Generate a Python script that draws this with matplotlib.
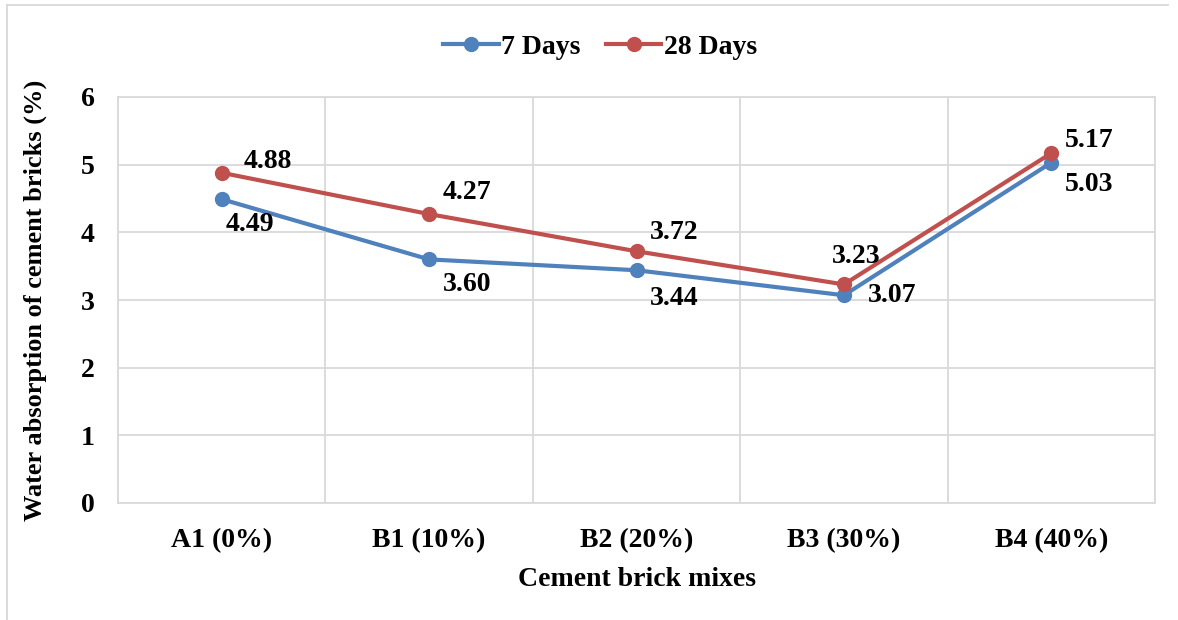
import matplotlib.pyplot as plt
from matplotlib.lines import Line2D

mixes = ["A1 (0%)", "B1 (10%)", "B2 (20%)", "B3 (30%)", "B4 (40%)"]
days7 = [4.49, 3.60, 3.44, 3.07, 5.03]
days28 = [4.88, 4.27, 3.72, 3.23, 5.17]

# label offsets in pixels (dx, dy), y up
off7 = [(28, -25), (38, -25), (38, -28), (48, 0), (38, -22)]
off28 = [(46, 11), (38, 22), (38, 19), (12, 28), (38, 13)]

blue = "#4F81BD"
red = "#C0504D"
grid = "#D9D9D9"

plt.rcParams["font.family"] = ["Liberation Serif", "DejaVu Serif"]
plt.rcParams["font.weight"] = "bold"
fs = 20

fig = plt.figure(figsize=(11.78, 6.2), dpi=100)
ax = fig.add_axes([118 / 1178, 117 / 620, 1037 / 1178, 406 / 620])

x = list(range(len(mixes)))
ax.plot(x, days7, color=blue, lw=3, marker="o", ms=10, label="7 Days", zorder=3)
ax.plot(x, days28, color=red, lw=3, marker="o", ms=10, label="28 Days", zorder=3)

for i in x:
    ax.annotate(f"{days7[i]:.2f}", (i, days7[i]), xytext=off7[i], textcoords="offset pixels",
                ha="center", va="center", fontsize=fs, fontweight="bold")
    ax.annotate(f"{days28[i]:.2f}", (i, days28[i]), xytext=off28[i], textcoords="offset pixels",
                ha="center", va="center", fontsize=fs, fontweight="bold")

ax.set_xlim(-0.5, 4.5)
ax.set_ylim(0, 6)
ax.set_xticks(x)
ax.set_xticklabels(mixes)
ax.set_xticks([i - 0.5 for i in range(6)], minor=True)
ax.set_yticks(range(7))
ax.tick_params(axis="both", which="both", length=0, labelsize=fs)
ax.tick_params(axis="y", pad=17)
ax.tick_params(axis="x", pad=18)
ax.grid(True, which="minor", axis="x", color=grid, lw=1.3)
ax.grid(True, which="major", axis="y", color=grid, lw=1.3)
ax.set_axisbelow(True)
for s in ax.spines.values():
    s.set_color(grid)
    s.set_linewidth(1.3)

ax.set_xlabel("Cement brick mixes", fontsize=fs, fontweight="bold", labelpad=10)
ax.set_ylabel("Water absorption of cement bricks (%)", fontsize=19, fontweight="bold", labelpad=24)

ax.legend(loc="upper center", bbox_to_anchor=(0.465, 1.215), ncol=2, frameon=False,
          fontsize=fs, handlelength=2.0, columnspacing=0.9, handletextpad=0.1)

# outer frame
fig.add_artist(Line2D([7 / 1178, 1168 / 1178], [1 - 5 / 620, 1 - 5 / 620], color=grid, lw=1.3))
fig.add_artist(Line2D([7 / 1178, 7 / 1178], [0, 1 - 5 / 620], color=grid, lw=1.3))

fig.savefig("out.png", dpi=100)
